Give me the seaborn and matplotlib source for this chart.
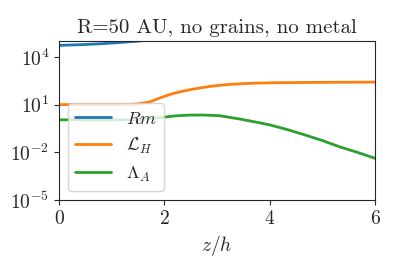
import numpy as np
import pandas as pd
import seaborn as sns
import matplotlib
matplotlib.use("Agg")
import matplotlib.pyplot as plt
from matplotlib import ticker

# values
z_rm = [0.0, 0.4, 0.8, 1.2, 1.54, 2.0, 2.5]
rm = [5.3e4, 5.8e4, 6.7e4, 8.2e4, 1.0e5, 1.6e5, 2.5e5]

z_lh = [0.0, 0.5, 1.0, 1.3, 1.5, 1.73, 1.9, 2.1, 2.3, 2.49, 2.67, 2.87, 3.05, 3.24, 3.5,
        3.76, 4.1, 4.57, 5.0, 5.5, 6.0]
lh = [10, 10, 10, 10.1, 11, 15, 25, 43, 64, 87, 110, 140, 163, 185, 208,
      225, 237, 245, 250, 254, 257]

z_la = [0.0, 0.5, 1.0, 1.3, 1.5, 1.7, 1.97, 2.2, 2.49, 2.75, 3.05, 3.43, 3.76, 4.0, 4.35,
        4.7, 5.0, 5.33, 5.67, 6.0]
la = [1.1, 1.1, 1.1, 1.1, 1.15, 1.3, 1.58, 1.95, 2.2, 2.2, 2.0, 1.24, 0.77, 0.53, 0.26,
      0.115, 0.055, 0.022, 0.0098, 0.0042]

sns.set_style("ticks")
plt.rcParams['font.family'] = 'serif'
plt.rcParams['font.serif'] = ['cmr10']
plt.rcParams['mathtext.fontset'] = 'cm'
plt.rcParams['axes.formatter.use_mathtext'] = True
plt.rcParams['axes.unicode_minus'] = False

fig, ax = plt.subplots(figsize=(3.99, 2.66), dpi=100)
fig.subplots_adjust(left=0.148, right=0.94, top=0.846, bottom=0.248)

colors = sns.color_palette("tab10")
sns.lineplot(x=z_rm, y=rm, ax=ax, color=colors[0], lw=2, label=r'$Rm$')
sns.lineplot(x=z_lh, y=lh, ax=ax, color=colors[1], lw=2, label=r'$\mathcal{L}_H$')
sns.lineplot(x=z_la, y=la, ax=ax, color=colors[2], lw=2, label=r'$\Lambda_A$')

ax.set_yscale('log')
ax.set_xlim(0, 6)
ax.set_ylim(1e-5, 1e5)
ax.yaxis.set_major_locator(ticker.FixedLocator([1e-5, 1e-2, 1e1, 1e4]))
ax.yaxis.set_major_formatter(ticker.LogFormatterSciNotation())
ax.yaxis.set_minor_locator(ticker.NullLocator())
ax.set_xticks([0, 2, 4, 6])
ax.tick_params(labelsize=14)
ax.set_xlabel(r'$z/h$', fontsize=14)
ax.set_title('R=50 AU, no grains, no metal', fontsize=15)
ax.legend(loc='lower left', fontsize=13)

fig.savefig('out.png', dpi=100)
